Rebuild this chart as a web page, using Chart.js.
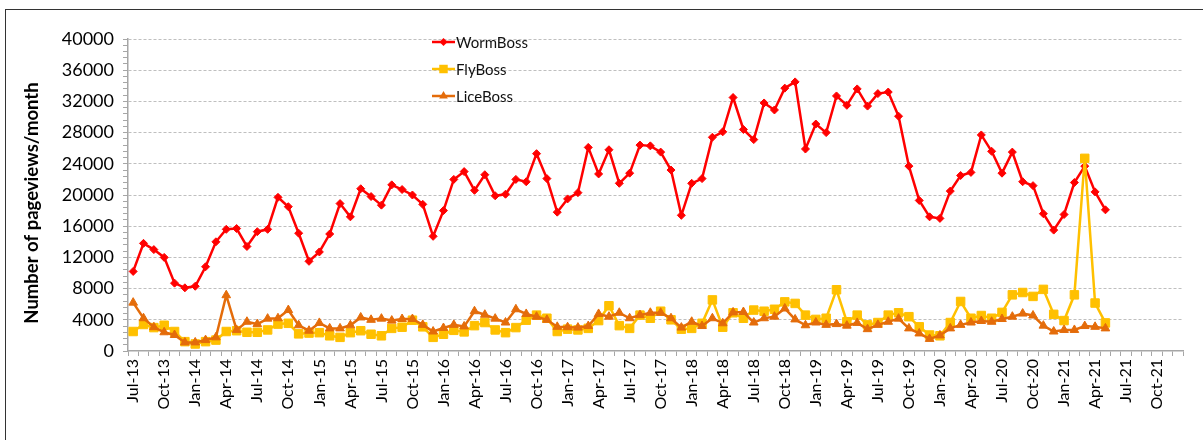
<!DOCTYPE html>
<html>
<head>
<meta charset="utf-8">
<script src="https://cdn.jsdelivr.net/npm/chart.js@4.4.0/dist/chart.umd.min.js"></script>
<style>
    html, body { margin: 0; padding: 0; background: #fff; }
    #wrap { position: relative; width: 1203px; height: 440px; overflow: hidden; }
    #frame { position: absolute; left: 5px; top: 9px; width: 1210px; height: 450px; border: 1.5px solid #333; }
    canvas { position: absolute; left: 0; top: 0; }
</style>
</head>
<body>
<div id="wrap">
    <div id="frame"></div>
    <canvas id="pageviewChart" width="1203" height="440"></canvas>
</div>
<script>
    // Bulan: Jul-13 sampai Dec-21
    const monthNames = ['Jan', 'Feb', 'Mar', 'Apr', 'May', 'Jun', 'Jul', 'Aug', 'Sep', 'Oct', 'Nov', 'Dec'];
    const months = [];
    for (let y = 13; y <= 21; y++) {
        for (let m = 0; m < 12; m++) {
            if (y === 13 && m < 6) continue;
            months.push(monthNames[m] + '-' + y);
        }
    }

    const wormBoss = [
        10200, 13800, 13000, 12000, 8700, 8100, 8300, 10800, 14000, 15600, 15700, 13400, 15300, 15600, 19700, 18500,
        15100, 11500, 12700, 15000, 18900, 17200, 20800, 19800, 18700, 21300, 20700, 20000, 18800, 14700, 18000, 22000,
        23000, 20600, 22600, 19900, 20100, 22000, 21700, 25300, 22100, 17800, 19500, 20300, 26100, 22700, 25800, 21500,
        22800, 26400, 26300, 25500, 23200, 17400, 21500, 22100, 27400, 28100, 32500, 28400, 27100, 31800, 30900, 33700,
        34500, 25900, 29100, 28000, 32700, 31500, 33600, 31400, 33000, 33200, 30100, 23700, 19300, 17200, 17000, 20500,
        22500, 22900, 27700, 25600, 22800, 25500, 21700, 21200, 17600, 15500, 17500, 21600, 23700, 20400, 18100
    ];
    const flyBoss = [
        2500, 3400, 3000, 3300, 2500, 1200, 900, 1200, 1400, 2500, 2600, 2400, 2400, 2700, 3450, 3550,
        2200, 2300, 2350, 1950, 1750, 2350, 2600, 2150, 1950, 2900, 3050, 3950, 3100, 1750, 2150, 2650,
        2450, 3250, 3650, 2700, 2350, 3000, 3950, 4600, 4200, 2500, 2800, 2700, 2900, 3900, 5800, 3250,
        2900, 4600, 4200, 5100, 4000, 2800, 2900, 3550, 6550, 3050, 4900, 4200, 5250, 5100, 5350, 6300,
        6100, 4600, 4050, 4200, 7850, 3750, 4600, 3350, 3650, 4600, 4900, 4400, 3100, 2050, 1950, 3650,
        6350, 4200, 4550, 4200, 4950, 7200, 7500, 7000, 7900, 4700, 3900, 7200, 24700, 6150, 3600
    ];
    const liceBoss = [
        6200, 4200, 3050, 2400, 2050, 1100, 1100, 1400, 1750, 7150, 2700, 3750, 3450, 4150, 4200, 5250,
        3300, 2600, 3600, 2900, 2900, 3300, 4300, 4000, 4150, 3900, 4100, 4100, 3350, 2500, 2950, 3350,
        3150, 5100, 4650, 4150, 3650, 5350, 4750, 4400, 4000, 3100, 3050, 3000, 3200, 4750, 4400, 4900,
        4200, 4600, 4900, 4900, 4200, 3000, 3750, 3200, 4200, 3550, 4950, 5000, 3650, 4200, 4400, 5450,
        4050, 3300, 3650, 3350, 3450, 3250, 3600, 2800, 3350, 3750, 4150, 2900, 2250, 1550, 2000, 2900,
        3350, 3650, 3850, 3750, 4100, 4400, 4800, 4550, 3250, 2500, 2700, 2700, 3200, 3100, 2900
    ];

    // Legenda di dalam area grafik + judul sumbu Y
    const legendInside = {
        id: 'legendInside',
        afterDraw(chart) {
            const c = chart.ctx;
            const rows = [42, 69, 96];
            chart.data.datasets.forEach((ds, i) => {
                const y = rows[i];
                c.save();
                c.strokeStyle = ds.borderColor;
                c.lineWidth = 2.5;
                c.beginPath();
                c.moveTo(432, y);
                c.lineTo(455, y);
                c.stroke();
                c.fillStyle = ds.borderColor;
                const x = 443.5;
                const r = ds.pointRadius;
                c.beginPath();
                if (ds.pointStyle === 'rectRot') {
                    c.moveTo(x - r, y); c.lineTo(x, y - r); c.lineTo(x + r, y); c.lineTo(x, y + r);
                } else if (ds.pointStyle === 'rect') {
                    const s = r * Math.SQRT1_2;
                    c.rect(x - s, y - s, 2 * s, 2 * s);
                } else {
                    c.moveTo(x, y - r); c.lineTo(x + r * 0.87, y + r * 0.5); c.lineTo(x - r * 0.87, y + r * 0.5);
                }
                c.closePath();
                c.fill();
                c.fillStyle = '#111';
                c.font = '15px Lato';
                c.textBaseline = 'middle';
                c.fillText(ds.label, 456, y + 1);
                c.restore();
            });

            // judul sumbu Y
            c.save();
            c.translate(32, 203);
            c.rotate(-Math.PI / 2);
            c.fillStyle = '#000';
            c.font = 'bold 18.5px Lato';
            c.textAlign = 'center';
            c.textBaseline = 'middle';
            c.fillText('Number of pageviews/month', 0, 0);
            c.restore();
        }
    };

    const ctx = document.getElementById('pageviewChart').getContext('2d');
    const pageviewChart = new Chart(ctx, {
        type: 'line',
        data: {
            labels: months,
            datasets: [
                {
                    label: 'WormBoss',
                    data: wormBoss,
                    borderColor: '#FF0000',
                    backgroundColor: '#FF0000',
                    borderWidth: 2.5,
                    pointStyle: 'rectRot',
                    pointRadius: 4,
                    pointBorderWidth: 1,
                    order: 3
                },
                {
                    label: 'FlyBoss',
                    data: flyBoss,
                    borderColor: '#FFC000',
                    backgroundColor: '#FFC000',
                    borderWidth: 2.5,
                    pointStyle: 'rect',
                    pointRadius: 6,
                    pointBorderWidth: 1,
                    order: 2
                },
                {
                    label: 'LiceBoss',
                    data: liceBoss,
                    borderColor: '#E46C0A',
                    backgroundColor: '#E46C0A',
                    borderWidth: 2.5,
                    pointStyle: 'triangle',
                    pointRadius: 5,
                    pointBorderWidth: 1,
                    order: 1
                }
            ]
        },
        options: {
            responsive: false,
            animation: false,
            layout: { padding: { left: 0, top: 39, right: 20, bottom: 0 } },
            plugins: {
                legend: { display: false },
                tooltip: { enabled: false }
            },
            scales: {
                x: {
                    offset: true,
                    grid: {
                        offset: true,
                        drawOnChartArea: false,
                        tickLength: 5,
                        color: '#a6a6a6'
                    },
                    border: { color: '#a6a6a6', width: 1.5 },
                    ticks: {
                        autoSkip: false,
                        minRotation: 90,
                        maxRotation: 90,
                        padding: 3,
                        color: '#000',
                        font: { family: 'Lato', size: 16 },
                        callback: function (value, index) {
                            return index % 3 === 0 ? this.getLabelForValue(value) : '';
                        }
                    },
                    afterFit: (scale) => { scale.height = 89; }
                },
                y: {
                    min: 0,
                    max: 40000,
                    grid: {
                        tickLength: 5,
                        lineWidth: 1,
                        color: (c) => (c.tick && c.tick.value % 4000 === 0 && c.tick.value > 0) ? '#bfbfbf' : 'transparent',
                        tickColor: '#a6a6a6',
                        tickBorderDash: []
                    },
                    border: { color: '#a6a6a6', width: 1.5, dash: [3, 2] },
                    ticks: {
                        stepSize: 800,
                        autoSkip: false,
                        padding: 9,
                        color: '#000',
                        font: { family: 'Lato', size: 18 },
                        callback: (value) => value % 4000 === 0 ? String(value) : ''
                    },
                    afterFit: (scale) => { scale.width = 128; }
                }
            }
        },
        plugins: [legendInside]
    });
</script>
</body>
</html>
